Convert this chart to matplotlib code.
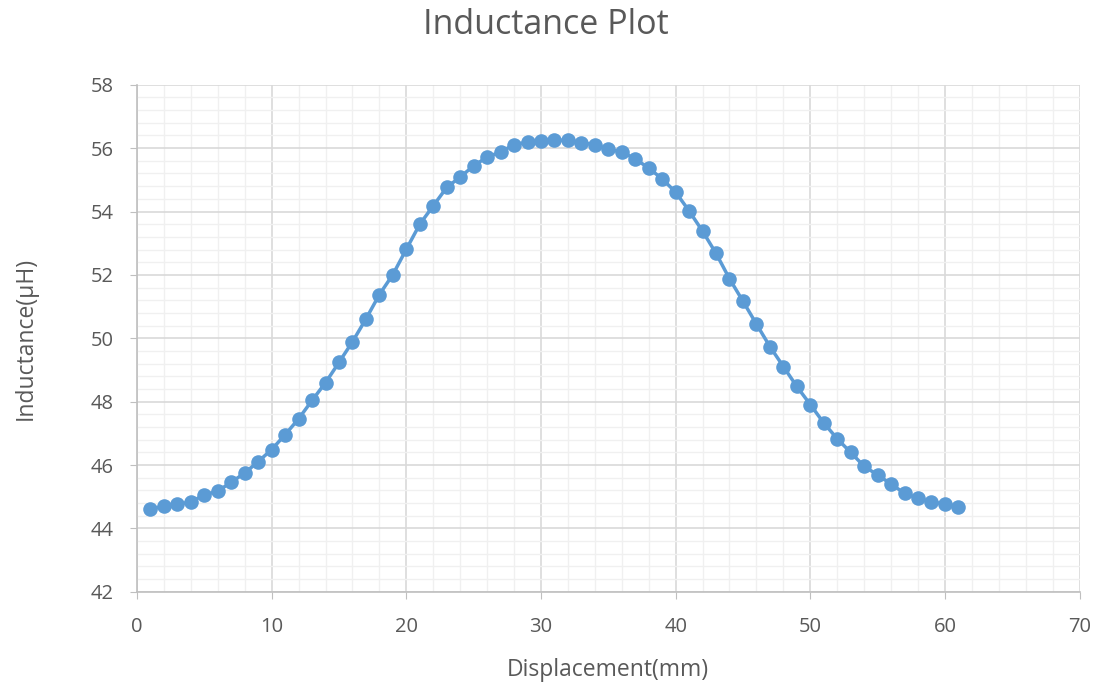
import matplotlib
matplotlib.use("Agg")
import matplotlib.pyplot as plt
from matplotlib.ticker import MultipleLocator

displacement = list(range(1, 62))
inductance = [44.60, 44.71, 44.76, 44.84, 45.06, 45.18, 45.46, 45.75, 46.11, 46.49,
              46.96, 47.46, 48.04, 48.60, 49.24, 49.89, 50.61, 51.38, 52.01, 52.81,
              53.60, 54.18, 54.76, 55.09, 55.44, 55.72, 55.88, 56.11, 56.19, 56.24,
              56.25, 56.25, 56.17, 56.11, 55.96, 55.88, 55.66, 55.37, 55.03, 54.61,
              54.02, 53.38, 52.68, 51.88, 51.17, 50.45, 49.74, 49.11, 48.48, 47.91,
              47.33, 46.83, 46.40, 45.96, 45.69, 45.40, 45.11, 44.95, 44.84, 44.77,
              44.69]

title = "Inductance Plot"
xlabel = "Displacement(mm)"
ylabel = "Inductance(μH)"

plt.rcParams['font.family'] = ['Open Sans', 'DejaVu Sans']
txt = '#595959'

fig = plt.figure(figsize=(11.05, 6.89), dpi=100)
ax = fig.add_axes([0.124, 0.141, 0.853, 0.736])

ax.plot(displacement, inductance, color='#5B9BD5', lw=2.5, marker='o',
        markersize=10.5, markeredgewidth=0, zorder=3)

ax.set_xlim(0, 70)
ax.set_ylim(42, 58)
ax.xaxis.set_major_locator(MultipleLocator(10))
ax.xaxis.set_minor_locator(MultipleLocator(2))
ax.yaxis.set_major_locator(MultipleLocator(2))
ax.yaxis.set_minor_locator(MultipleLocator(0.4))

ax.grid(which='major', color='#D9D9D9', lw=1.2)
ax.grid(which='minor', color='#F0F0F0', lw=1.0)
ax.set_axisbelow(True)

for s in ['top', 'right']:
    ax.spines[s].set_visible(False)
for s in ['left', 'bottom']:
    ax.spines[s].set_color('#BFBFBF')
    ax.spines[s].set_linewidth(1.2)

ax.tick_params(which='major', length=5, color='#BFBFBF', labelcolor=txt,
               labelsize=14.5)
ax.tick_params(axis='x', which='major', pad=13)
ax.tick_params(axis='y', which='major', pad=12)
ax.tick_params(which='minor', length=0)

fig.suptitle(title, x=0.494, y=0.963, va='center', fontsize=24.5, color=txt)
ax.set_xlabel(xlabel, fontsize=16.5, color=txt)
ax.set_ylabel(ylabel, fontsize=16.5, color=txt)
ax.xaxis.set_label_coords(0.5, -0.155)
ax.yaxis.set_label_coords(-0.118, 0.5)
ax.xaxis.label.set_va('center')
ax.yaxis.label.set_va('center')

fig.savefig('out.png', dpi=100, facecolor='white')
